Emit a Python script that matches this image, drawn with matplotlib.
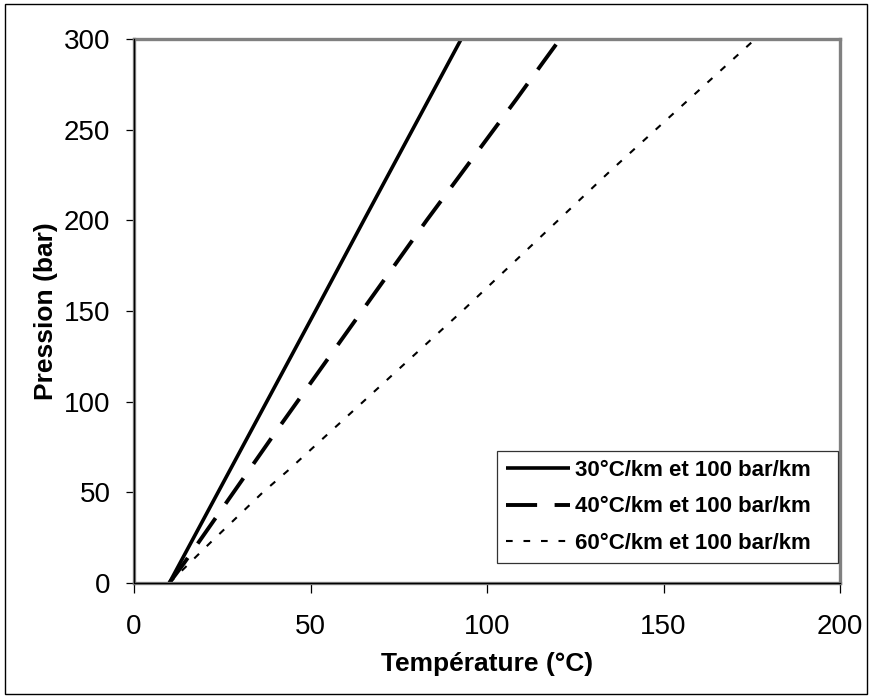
import matplotlib
matplotlib.use('Agg')
import matplotlib.pyplot as plt
from matplotlib.patches import Rectangle

plt.rcParams['font.family'] = ['Liberation Sans', 'DejaVu Sans']

# temperature (°C) vs pressure (bar)
p_30 = [0, 50, 100, 150, 200, 250, 300]
t_30 = [10, 23.8, 37.6, 51.4, 65.1, 78.9, 92.7]

p_40 = [0, 11, 84, 200, 267, 288, 300]
t_40 = [10, 14.2, 40.4, 82.9, 108.4, 116.2, 120.7]

p_60 = [0, 22, 50, 62, 150, 227, 300]
t_60 = [10, 21.5, 36.5, 43.6, 93.0, 134.8, 176.0]

labels = ['30°C/km et 100 bar/km', '40°C/km et 100 bar/km', '60°C/km et 100 bar/km']

fig = plt.figure(figsize=(8.73, 6.99), dpi=100)
ax = fig.add_axes([134/873, 1-583/699, (840-134)/873, (583-39)/699])

ax.plot(t_30, p_30, color='black', lw=2.6, solid_capstyle='butt', label=labels[0])
ax.plot(t_40, p_40, color='black', lw=2.8, dashes=(8.0, 4.5), dash_capstyle='butt', label=labels[1])
ax.plot(t_60, p_60, color='black', lw=1.5, dashes=(3.2, 5.2), dash_capstyle='butt', label=labels[2])

ax.set_xlim(0, 200)
ax.set_ylim(0, 300)
ax.set_xticks(range(0, 201, 50))
ax.set_yticks(range(0, 301, 50))

for s in ax.spines.values():
    s.set_color('#808080')
    s.set_linewidth(2.4)
ax.axhline(0, color='black', lw=0.9, clip_on=False, zorder=5)
ax.axvline(0, color='black', lw=0.9, clip_on=False, zorder=5)

ax.tick_params(axis='both', direction='out', color='black', width=0.9, labelsize=20)
ax.tick_params(axis='x', length=7, pad=15)
ax.tick_params(axis='y', length=6, pad=11)

ax.set_xlabel('Température (°C)', fontsize=19, fontweight='bold', labelpad=9)
ax.set_ylabel('Pression (bar)', fontsize=19, fontweight='bold', labelpad=4)

leg = ax.legend([l + '   ' for l in labels], loc='lower right', bbox_to_anchor=(0.997, 0.037),
                prop={'weight': 'bold', 'size': 16}, frameon=True, fancybox=False,
                handlelength=2.9, handletextpad=0.2, borderpad=0.4, labelspacing=0.7,
                borderaxespad=0)
leg.get_frame().set_edgecolor('black')
leg.get_frame().set_linewidth(0.9)

fig.patches.append(Rectangle((5/873, 1-694/699), 862/873, 690/699, transform=fig.transFigure,
                             fill=False, edgecolor='black', lw=1.0))

fig.savefig('out.png', dpi=100)
